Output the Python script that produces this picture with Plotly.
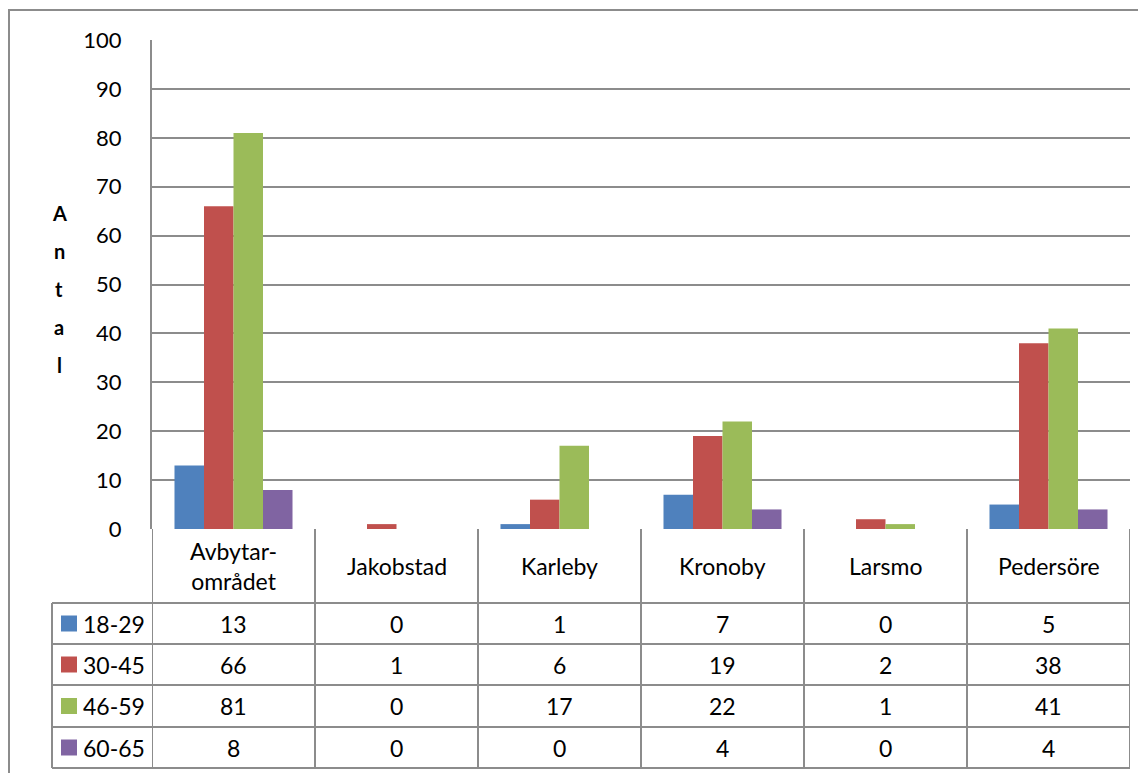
import plotly.graph_objects as go

# ---- data ----
categories = ["Avbytar-<br>området", "Jakobstad", "Karleby", "Kronoby", "Larsmo", "Pedersöre"]
series_names = ["18-29", "30-45", "46-59", "60-65"]
v_18_29 = [13, 0, 1, 7, 0, 5]
v_30_45 = [66, 1, 6, 19, 2, 38]
v_46_59 = [81, 0, 17, 22, 1, 41]
v_60_65 = [8, 0, 0, 4, 0, 4]
y_title = "Antal"
y_ticks = [0, 10, 20, 30, 40, 50, 60, 70, 80, 90, 100]

series_values = [v_18_29, v_30_45, v_46_59, v_60_65]
colors = ["#4F81BD", "#C0504D", "#9BBB59", "#8064A2"]

OFF = 8  # page body margin
W, H = 1146 - OFF, 773 - OFF
# plot area in page pixels
PL, PR, PT, PB = 152, 1130, 40, 529
L, R, T, B = PL - OFF, PR - OFF, PT - OFF, PB - OFF
FONT = "Lato, Carlito, Calibri, sans-serif"
GRID = "#8c8c8c"


def px(p):
    return (p - PL) / (PR - PL)


def py(p):
    return (PB - p) / (PB - PT)


fig = go.Figure()
for name, vals, c in zip(series_names, series_values, colors):
    fig.add_trace(go.Bar(x=categories, y=vals, name=name, marker_color=c,
                         marker_line_width=0, showlegend=False))

shapes = []
# outer chart border
shapes.append(dict(type="rect", xref="paper", yref="paper", x0=px(9), x1=px(1160),
                   y0=py(820), y1=py(10), line=dict(color=GRID, width=2), layer="below"))

# table geometry (page pixels)
header_top, header_bot = 529, 603
row_edges = [603, 644, 685, 727, 768]
key_left = 52

for i in range(len(categories) + 1):
    shapes.append(dict(type="line", xref="x", yref="paper", x0=i - 0.5, x1=i - 0.5,
                       y0=py(header_top), y1=py(row_edges[-1]), line=dict(color=GRID, width=2)))
shapes.append(dict(type="line", xref="paper", yref="paper", x0=px(key_left), x1=px(key_left),
                   y0=py(row_edges[0]), y1=py(row_edges[-1]), line=dict(color=GRID, width=2)))
for yy in row_edges:
    shapes.append(dict(type="line", xref="paper", yref="paper", x0=px(key_left), x1=1,
                       y0=py(yy), y1=py(yy), line=dict(color=GRID, width=2)))

annotations = []
TF = dict(family=FONT, size=23, color="black")
for i, cat in enumerate(categories):
    annotations.append(dict(x=i, y=py((header_top + header_bot) / 2), xref="x", yref="paper",
                            text=cat, showarrow=False, font=TF,
                            xanchor="center", yanchor="middle"))
for r, (name, vals, c) in enumerate(zip(series_names, series_values, colors)):
    yc = (row_edges[r] + row_edges[r + 1]) / 2
    shapes.append(dict(type="rect", xref="paper", yref="paper", x0=px(61), x1=px(77),
                       y0=py(yc + 8), y1=py(yc - 8), fillcolor=c, line=dict(width=0)))
    annotations.append(dict(x=px(81), y=py(yc), xref="paper", yref="paper", text=name,
                            showarrow=False, xanchor="left", yanchor="middle", font=TF))
    for i, v in enumerate(vals):
        annotations.append(dict(x=i, y=py(yc), xref="x", yref="paper", text=str(v),
                                showarrow=False, xanchor="center", yanchor="middle", font=TF))

# stacked y-axis title
title_baselines = [220, 258, 296, 334, 372]
for ch, bl in zip(y_title, title_baselines):
    annotations.append(dict(x=px(59), y=py(bl - 7), xref="paper", yref="paper", text=f"<b>{ch}</b>",
                            showarrow=False, xanchor="center", yanchor="middle",
                            font=dict(family=FONT, size=20, color="black")))

fig.update_layout(
    width=W, height=H, autosize=False,
    margin=dict(l=L, r=W - R, t=T, b=H - B, pad=0),
    paper_bgcolor="white", plot_bgcolor="white",
    barmode="group", bargap=0.276, bargroupgap=0,
    shapes=shapes, annotations=annotations,
    xaxis=dict(showticklabels=False, showline=False, showgrid=False, zeroline=False,
               range=[-0.5, len(categories) - 0.5], fixedrange=True),
    yaxis=dict(range=[0, 100], tickvals=y_ticks, showgrid=True, gridcolor=GRID, gridwidth=2,
               showline=True, linecolor=GRID, linewidth=2, zeroline=False, ticks="",
               ticklabelstandoff=24, tickfont=dict(family=FONT, size=22, color="black")),
)

fig.write_html("out.html")
